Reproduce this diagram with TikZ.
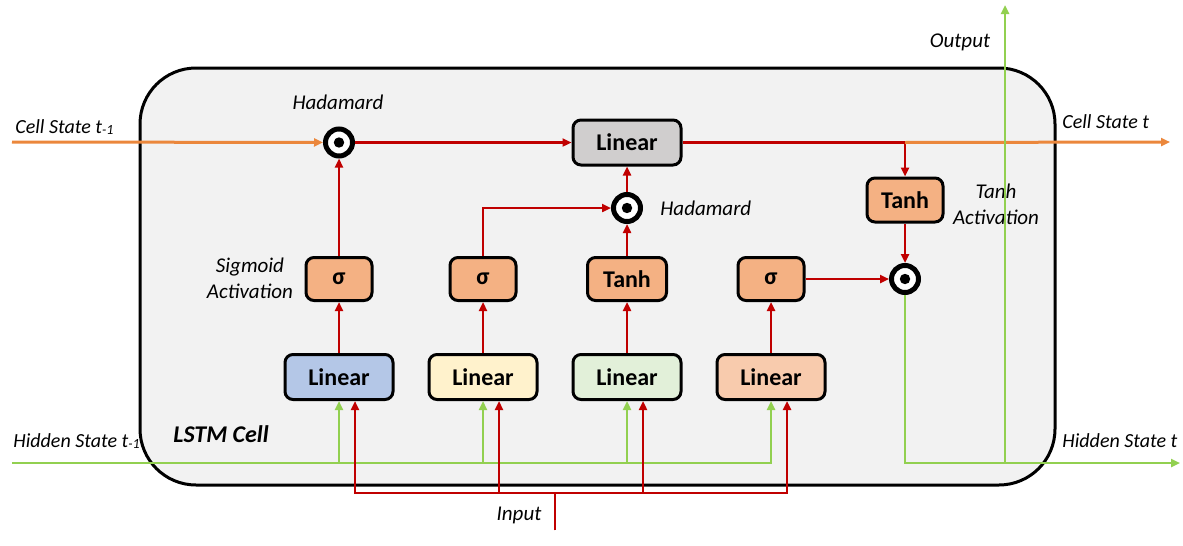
\documentclass[tikz,border=0pt]{standalone}
\usepackage{fontspec}
\setmainfont{Carlito}
\usetikzlibrary{arrows.meta, positioning, calc}
\definecolor{lred}{RGB}{192,0,0}
\definecolor{lgreen}{RGB}{146,208,80}
\definecolor{lorange}{RGB}{235,135,60}
\definecolor{cellfill}{RGB}{242,242,242}
\definecolor{linblue}{RGB}{180,199,231}
\definecolor{linyel}{RGB}{255,242,204}
\definecolor{lingreen}{RGB}{226,240,217}
\definecolor{linorange}{RGB}{248,203,173}
\definecolor{lingray}{RGB}{208,206,206}
\definecolor{actfill}{RGB}{244,177,131}
\newcommand{\tm}{\raisebox{-0.8pt}{\fontsize{7}{8}\selectfont -1}}
\begin{document}
\begin{tikzpicture}[x=0.5pt,y=-0.5pt, lin/.style={rectangle,draw=black,line width=1.5pt,rounded corners=4pt,minimum width=54pt,minimum height=22.5pt,inner sep=1pt,font=\fontsize{12}{14}\selectfont\bfseries}, act/.style={lin,fill=actfill,minimum width=33pt,minimum height=21.5pt}, hada/.style={circle,draw=black,fill=white,line width=2.5pt,minimum size=13.5pt,inner sep=0pt,outer sep=1.25pt,path picture={\fill[black](path picture bounding box.center) circle (2.6pt);}}, lbl/.style={font=\fontsize{10.5}{13}\selectfont\itshape,inner sep=0pt}, st/.style={lbl,anchor=west,font=\fontsize{10}{12}\selectfont\itshape}, rl/.style={draw=lred,line width=1.3pt}, gl/.style={draw=lgreen,line width=1.3pt}, ol/.style={draw=lorange,line width=1.5pt}, tip/.style={-{Triangle[length=4.5pt,width=4pt]}}]
  \useasboundingbox (0,0) rectangle (1183,546);
  \node[draw=black,line width=1.5pt,fill=cellfill,rounded corners=28pt,minimum width=457.5pt,minimum height=208.5pt](cell) at (597.5,276.5){};
  \node[lin,fill=linblue](l1) at (339,377){Linear};
  \node[lin,fill=linyel,right=16.5pt of l1](l2){Linear};
  \node[lin,fill=lingreen,right=16.5pt of l2](l3){Linear};
  \node[lin,fill=linorange,right=16.5pt of l3](l4){Linear};
  \node[act,above=25.5pt of l1](s1){σ};
  \node[act,above=25.5pt of l2](s2){σ};
  \node[act,minimum width=39.5pt,above=25.5pt of l3](t2){Tanh};
  \node[act,above=25.5pt of l4](s3){σ};
  \node[hada,above=16pt of t2](h2){};
  \node[lin,fill=lingray,above=12.75pt of h2](gl){Linear};
  \node[hada](h1) at (s1 |- gl){};
  \node[act,minimum width=38pt,minimum height=22pt](tb) at (905,200){Tanh};
  \node[hada](h3) at (tb |- s3){};
  \node[lbl](hd1) at (338,102){Hadamard};
  \node[lbl,anchor=west](hd2) at (660,208){Hadamard};
  \node[lbl,align=center](sal) at (250,278){Sigmoid\\Activation};
  \node[lbl,align=center](tal) at (996,204){Tanh\\Activation};
  \node[st](csl) at (15,127){Cell State t\tm};
  \node[st](cst) at (1062,122){Cell State t};
  \node[st](hsl) at (13,441){Hidden State t\tm};
  \node[st](hst) at (1062,441){Hidden State t};
  \node[lbl](outl) at (960,42){Output};
  \node[lbl](inl) at (519,515){Input};
  \node[lbl,anchor=west,font=\fontsize{12}{14}\selectfont\bfseries\itshape](cl) at (173,434){LSTM Cell};
  \coordinate (csi) at (12,142);
  \coordinate (cso) at (1170,142);
  \coordinate (hsi) at (12,463);
  \coordinate (hso) at (1180,463);
  \coordinate (outp) at (1005,5);
  \coordinate (inp) at (555,530);
  \coordinate (bus) at (555,493);
  \foreach \n in {1,...,4}{\coordinate (r\n) at ([xshift=8pt]l\n.south);}
  \foreach \n in {1,...,4}{\draw[gl,tip](hsi)-|(l\n.south);}
  \foreach \n in {1,...,4}{\draw[rl,tip](inp)--(bus)-|(r\n);}
  \foreach \x/\y in {l1/s1,l2/s2,l3/t2,l4/s3,s1/h1,t2/h2,h2/gl,h1/gl,tb/h3,s3/h3}{\draw[rl,tip](\x)--(\y);}
  \draw[rl,tip](s2.north)|-(h2);
  \draw[rl,tip](gl.east)-|(tb.north);
  \draw[ol,tip](csi)--(h1);
  \draw[ol,tip](tb.north |- gl.east)--(cso);
  \draw[gl,tip](h3)|-(hso);
  \draw[gl,tip](outp |- hso)--(outp);
\end{tikzpicture}
\end{document}
